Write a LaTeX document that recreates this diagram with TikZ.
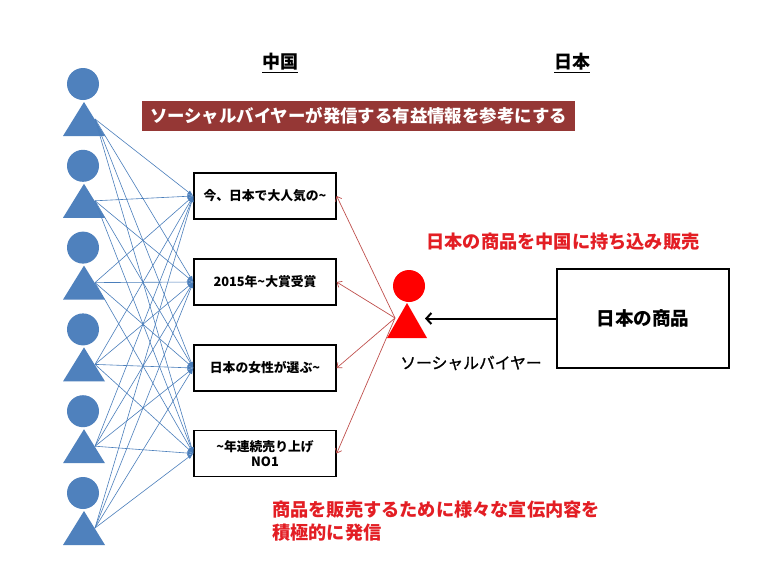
\documentclass[tikz,border=0pt]{standalone}
\usepackage{fontspec}
\setmainfont{Noto Sans CJK JP}
\newfontfamily\jpmed[FakeBold=1.2]{Noto Sans CJK JP}
\usetikzlibrary{arrows.meta}
\definecolor{figblue}{HTML}{4F81BD}
\definecolor{lineblue}{HTML}{4A7EBB}
\definecolor{barred}{HTML}{953735}
\definecolor{linered}{HTML}{C0504D}
\definecolor{txtred}{HTML}{E31E24}
\begin{document}
\begin{tikzpicture}[x=1pt,y=-1pt,
  msgbox/.style={draw=black,line width=1.3pt,minimum width=142pt,minimum height=46pt,inner sep=0pt,align=center,font=\bfseries\fontsize{12.8}{15}\selectfont},
  blueline/.style={lineblue,line width=0.6pt,-{Latex[length=6pt,width=4.5pt]}},
  redline/.style={linered,line width=0.7pt,-{Straight Barb[length=4pt,width=7pt]}},
  head/.style={circle,inner sep=0pt,minimum size=32pt},
  heading/.style={font=\bfseries\fontsize{18}{20}\selectfont},
  redtext/.style={text=txtred,font=\bfseries\fontsize{18.2}{22.5}\selectfont}]
\useasboundingbox[fill=white] (0,0) rectangle (782,587);

% headings
\node[heading] (cn) at (280,63) {\underline{中国}};
\node[heading] (jp) at (572,63) {\underline{日本}};
\node[fill=barred,text=white,minimum width=433pt,minimum height=30pt,inner sep=0pt,
  font=\bfseries\fontsize{17.4}{20}\selectfont] (bar) at (358.5,116) {ソーシャルバイヤーが発信する有益情報を参考にする};

% message boxes
\node[msgbox] (m1) at (265,196) {今、日本で大人気の\textasciitilde};
\node[msgbox] (m2) at (265,282) {2015年\textasciitilde 大賞受賞};
\node[msgbox] (m3) at (265,368) {日本の女性が選ぶ\textasciitilde};
\node[msgbox] (m4) at (265,453.5) {\textasciitilde 年連続売り上げ\\NO1};

% blue consumers
\foreach \i in {0,...,5}{
  \pgfmathsetmacro\h{84+81.8*\i}
  \node[head,fill=figblue] (head\i) at (83,\h) {};
  \fill[figblue] (84,\h+18) -- (63,\h+52) -- (105,\h+52) -- cycle;
  \coordinate (p\i) at (95,\h+35);
}
\foreach \i in {0,...,5}{
  \foreach \j in {1,...,4}{
    \draw[blueline] (p\i) -- (m\j.west);
  }
}

% social buyer
\node[head,fill=red] (sbhead) at (409,286) {};
\fill[red] (407,303) -- (387,338) -- (427,338) -- cycle;
\coordinate (sb) at (395,318);
\coordinate (sbtip) at (425,318.5);
\foreach \j in {1,...,4}{
  \draw[redline] (sb) -- (m\j.east);
}
\node[font=\jpmed\fontsize{15.8}{18}\selectfont] (sblabel) at (471,363) {ソーシャルバイヤー};

% Japanese goods
\node[draw=black,line width=2pt,minimum width=172pt,minimum height=99pt,inner sep=0pt,
  font=\bfseries\fontsize{18.6}{20}\selectfont] (goods) at (643,318.5) {日本の商品};
\draw[line width=2pt,-{Straight Barb[length=5pt,width=11pt]}] (goods.west) -- (sbtip);

% red captions
\node[redtext] (carry) at (563,242) {日本の商品を中国に持ち込み販売};
\node[redtext,align=left,anchor=west,inner sep=0pt] (promo) at (272,521) {商品を販売するために様々な宣伝内容を\\積極的に発信};
\end{tikzpicture}
\end{document}
